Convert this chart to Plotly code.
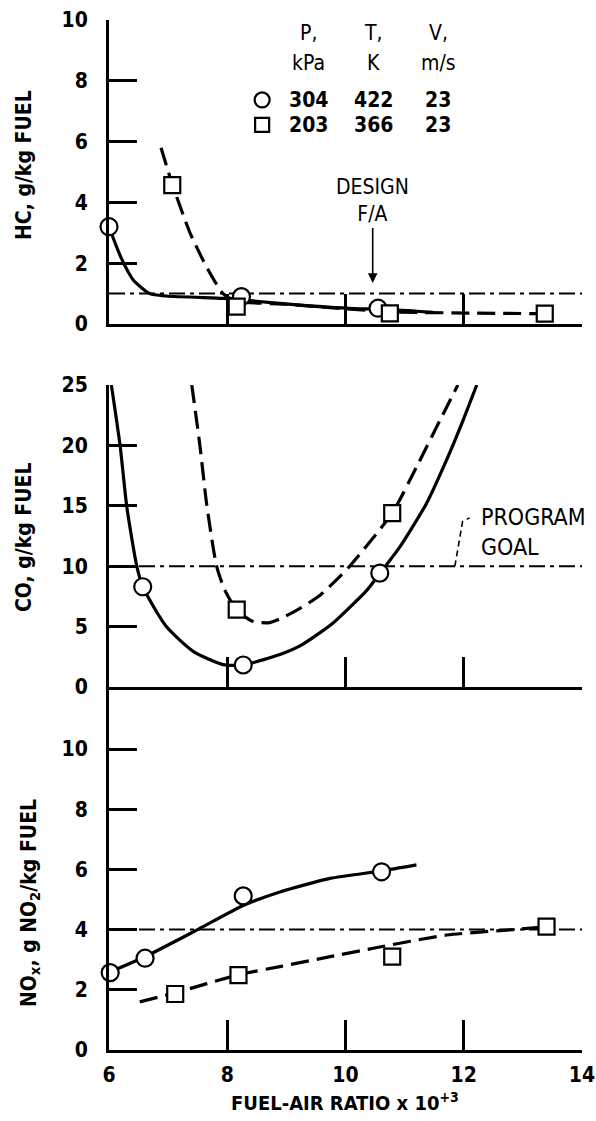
import plotly.graph_objects as go

W, H = 596, 1121
FONT = "DejaVu Sans Condensed, DejaVu Sans, sans-serif"

# ---------------- data ----------------
# HC panel
hc_p304_x = [6.0, 8.24, 10.55]
hc_p304_y = [3.2, 0.9, 0.52]
hc_p203_x = [7.07, 8.16, 10.75, 13.37]
hc_p203_y = [4.57, 0.57, 0.35, 0.34]
hc_fit304_x = [6.0, 6.2, 6.41, 6.69, 6.97, 7.93, 8.21, 9.23, 10.24, 10.55, 11.2, 11.48]
hc_fit304_y = [3.2, 2.2, 1.45, 1.0, 0.92, 0.84, 0.8, 0.62, 0.5, 0.5, 0.42, 0.38]
hc_fit203_x = [6.88, 7.07, 7.37, 7.65, 7.93, 8.16, 9.0, 10.0, 10.75, 12.1, 13.37]
hc_fit203_y = [5.8, 4.6, 3.0, 1.88, 1.0, 0.75, 0.65, 0.5, 0.4, 0.36, 0.34]
hc_goal = 1.0

# CO panel
co_p304_x = [6.57, 8.27, 10.58]
co_p304_y = [8.3, 1.82, 9.43]
co_p203_x = [8.16, 10.79]
co_p203_y = [6.4, 14.4]
co_fit304_x = [6.04, 6.19, 6.3, 6.47, 6.57, 6.97, 7.43, 7.93, 8.27, 8.95, 9.23, 9.57, 9.79,
               10.36, 10.58, 10.92, 11.37, 11.71, 11.99, 12.22]
co_fit304_y = [25, 19.9, 14.95, 10, 8.3, 5.0, 2.93, 1.85, 1.82, 2.8, 3.4, 4.5, 5.3,
               8.0, 9.4, 11.6, 15.2, 18.8, 22.1, 25]
co_fit203_x = [7.4, 7.54, 7.65, 7.82, 7.96, 8.16, 8.44, 8.72, 8.92, 9.23, 9.57, 9.79, 10.07,
               10.79, 11.2, 11.6, 11.9]
co_fit203_y = [25, 19.9, 15.2, 10, 8.0, 6.4, 5.42, 5.33, 5.7, 6.5, 7.6, 8.6, 10,
               14.4, 18.2, 22.1, 25]
co_goal = 10.0

# NOx panel
nox_p304_x = [6.02, 6.61, 8.27, 10.61]
nox_p304_y = [2.57, 3.05, 5.12, 5.92]
nox_p203_x = [7.12, 8.19, 10.79, 13.4]
nox_p203_y = [1.86, 2.49, 3.1, 4.1]
nox_fit304_x = [6.02, 6.61, 7.5, 8.27, 8.89, 9.74, 10.61, 11.2]
nox_fit304_y = [2.6, 3.1, 4.0, 4.8, 5.25, 5.7, 5.95, 6.15]
nox_fit203_x = [6.52, 7.12, 8.19, 8.89, 9.74, 10.47, 11.71, 12.84, 13.4]
nox_fit203_y = [1.6, 1.9, 2.5, 2.77, 3.1, 3.38, 3.82, 4.0, 4.1]
nox_goal = 4.0

x_range = [6, 14]
x_tickvals = [6, 8, 10, 12, 14]
hc_ticks = [0, 2, 4, 6, 8, 10]
co_ticks = [0, 5, 10, 15, 20, 25]
nox_ticks = [0, 2, 4, 6, 8, 10]

legend_rows = [["304", "422", "23"], ["203", "366", "23"]]
legend_heads = [["P,", "kPa"], ["T,", "K"], ["V,", "m/s"]]
design_fa = 10.46
program_leader_x = [11.85, 11.98, 12.1]
program_leader_y = [10.0, 13.7, 14.0]

# ---------------- figure ----------------
def px(x):
    return x / W


def py(y):
    return 1 - y / H


fig = go.Figure()

panels = [
    ("x", "y", hc_goal, hc_fit304_x, hc_fit304_y, hc_fit203_x, hc_fit203_y,
     hc_p304_x, hc_p304_y, hc_p203_x, hc_p203_y),
    ("x2", "y2", co_goal, co_fit304_x, co_fit304_y, co_fit203_x, co_fit203_y,
     co_p304_x, co_p304_y, co_p203_x, co_p203_y),
    ("x3", "y3", nox_goal, nox_fit304_x, nox_fit304_y, nox_fit203_x, nox_fit203_y,
     nox_p304_x, nox_p304_y, nox_p203_x, nox_p203_y),
]

for xa, ya, goal, fx1, fy1, fx2, fy2, px1, py1, px2, py2 in panels:
    fig.add_trace(go.Scatter(x=x_range, y=[goal, goal], xaxis=xa, yaxis=ya, mode="lines",
                             line=dict(color="black", width=2, dash="16px,5px,4px,5px"),
                             showlegend=False, hoverinfo="skip"))
    fig.add_trace(go.Scatter(x=fx1, y=fy1, xaxis=xa, yaxis=ya, mode="lines",
                             line=dict(color="black", width=3.2, shape="spline", smoothing=0.6),
                             showlegend=False, hoverinfo="skip"))
    fig.add_trace(go.Scatter(x=fx2, y=fy2, xaxis=xa, yaxis=ya, mode="lines",
                             line=dict(color="black", width=3.2, shape="spline", smoothing=0.6,
                                       dash="18px,8px"),
                             showlegend=False, hoverinfo="skip"))
    fig.add_trace(go.Scatter(x=px1, y=py1, xaxis=xa, yaxis=ya, mode="markers", cliponaxis=False,
                             marker=dict(symbol="circle", size=17, color="white",
                                         line=dict(color="black", width=2.2)),
                             showlegend=False))
    fig.add_trace(go.Scatter(x=px2, y=py2, xaxis=xa, yaxis=ya, mode="markers", cliponaxis=False,
                             marker=dict(symbol="square", size=16, color="white",
                                         line=dict(color="black", width=2.2)),
                             showlegend=False))

# legend symbols
fig.add_trace(go.Scatter(x=[8.59], y=[7.37], xaxis="x", yaxis="y", mode="markers", cliponaxis=False,
                         marker=dict(symbol="circle", size=15, color="white",
                                     line=dict(color="black", width=2.2)), showlegend=False))
fig.add_trace(go.Scatter(x=[8.59], y=[6.55], xaxis="x", yaxis="y", mode="markers", cliponaxis=False,
                         marker=dict(symbol="square", size=14, color="white",
                                     line=dict(color="black", width=2.2)), showlegend=False))

# program goal leader line
fig.add_trace(go.Scatter(x=program_leader_x, y=program_leader_y, xaxis="x2", yaxis="y2",
                         mode="lines", line=dict(color="black", width=1.6, dash="6px,4px"),
                         showlegend=False, hoverinfo="skip"))

xdom = [px(109), px(582)]
ax_common = dict(range=x_range, showgrid=False, zeroline=False, showline=True,
                 linecolor="black", linewidth=3, ticks="inside", ticklen=30, tickwidth=2.5,
                 tickcolor="black", fixedrange=True, domain=xdom, automargin=False)
tickfont = dict(family=FONT, size=21, color="black", weight="bold")
y_common = dict(showgrid=False, zeroline=False, showline=True, linecolor="black", linewidth=3,
                ticks="inside", ticklen=28, tickwidth=2.5, tickcolor="black",
                tickfont=tickfont, ticklabelstandoff=14, fixedrange=True, automargin=False)

fig.update_layout(
    width=W, height=H,
    margin=dict(l=0, r=0, t=0, b=0, autoexpand=False),
    paper_bgcolor="white", plot_bgcolor="white",
    font=dict(family=FONT, color="black"),
    xaxis=dict(**ax_common, anchor="y", tickvals=[8, 10, 12, 14], showticklabels=False),
    xaxis2=dict(**ax_common, anchor="y2", tickvals=[8, 10, 12, 14], showticklabels=False),
    xaxis3=dict(**ax_common, anchor="y3", tickvals=x_tickvals, showticklabels=True,
                tickfont=tickfont, ticklabelstandoff=4),
    yaxis=dict(**y_common, anchor="x", domain=[py(324), py(20)], range=[0, 10], tickvals=hc_ticks),
    yaxis2=dict(**y_common, anchor="x2", domain=[py(687), py(385)], range=[0, 25], tickvals=co_ticks),
    yaxis3=dict(**y_common, anchor="x3", domain=[py(1050), py(687)], range=[0, 12.06],
                tickvals=nox_ticks),
)

ann = []


def paper_text(text, x, y, font, **kw):
    d = dict(text=text, x=px(x), y=py(y), xref="paper", yref="paper", showarrow=False,
             xanchor="center", yanchor="middle", font=font)
    d.update(kw)
    ann.append(d)


title_font = dict(family=FONT, size=21, color="black", weight="bold")
paper_text("HC, g/kg FUEL", 24, 165, title_font, textangle=-90)
paper_text("CO, g/kg FUEL", 24, 537, title_font, textangle=-90)
paper_text("NO<sub>x</sub>, g NO<sub>2</sub>/kg FUEL", 30, 903, title_font, textangle=-90)
paper_text("FUEL-AIR RATIO x 10<sup>+3</sup>", 345, 1102,
           dict(family=FONT, size=20, color="black", weight="bold"))

# legend table
head_font = dict(family=FONT, size=21, color="black")
row_font = dict(family=FONT, size=21, color="black", weight="bold")
col_x = [309, 373, 438]
for cx, (h1, h2) in zip(col_x, legend_heads):
    paper_text(h1, cx, 33, head_font)
    paper_text(h2, cx, 63, head_font)
for ry, row in zip([100, 125], legend_rows):
    for cx, t in zip(col_x, row):
        paper_text(t, cx, ry, row_font)

# design F/A arrow
ann.append(dict(text="DESIGN<br>F/A", x=design_fa, y=1.35, xref="x", yref="y",
                ax=0, ay=-82, showarrow=True, arrowhead=2, arrowsize=1.2, arrowwidth=1.6,
                arrowcolor="black", font=dict(family=FONT, size=21, color="black")))

# program goal text
paper_text("PROGRAM<br>GOAL", 479, 532, dict(family=FONT, size=23, color="black"),
           xanchor="left", align="left")

fig.update_layout(annotations=ann)
fig.write_html("out.html")
